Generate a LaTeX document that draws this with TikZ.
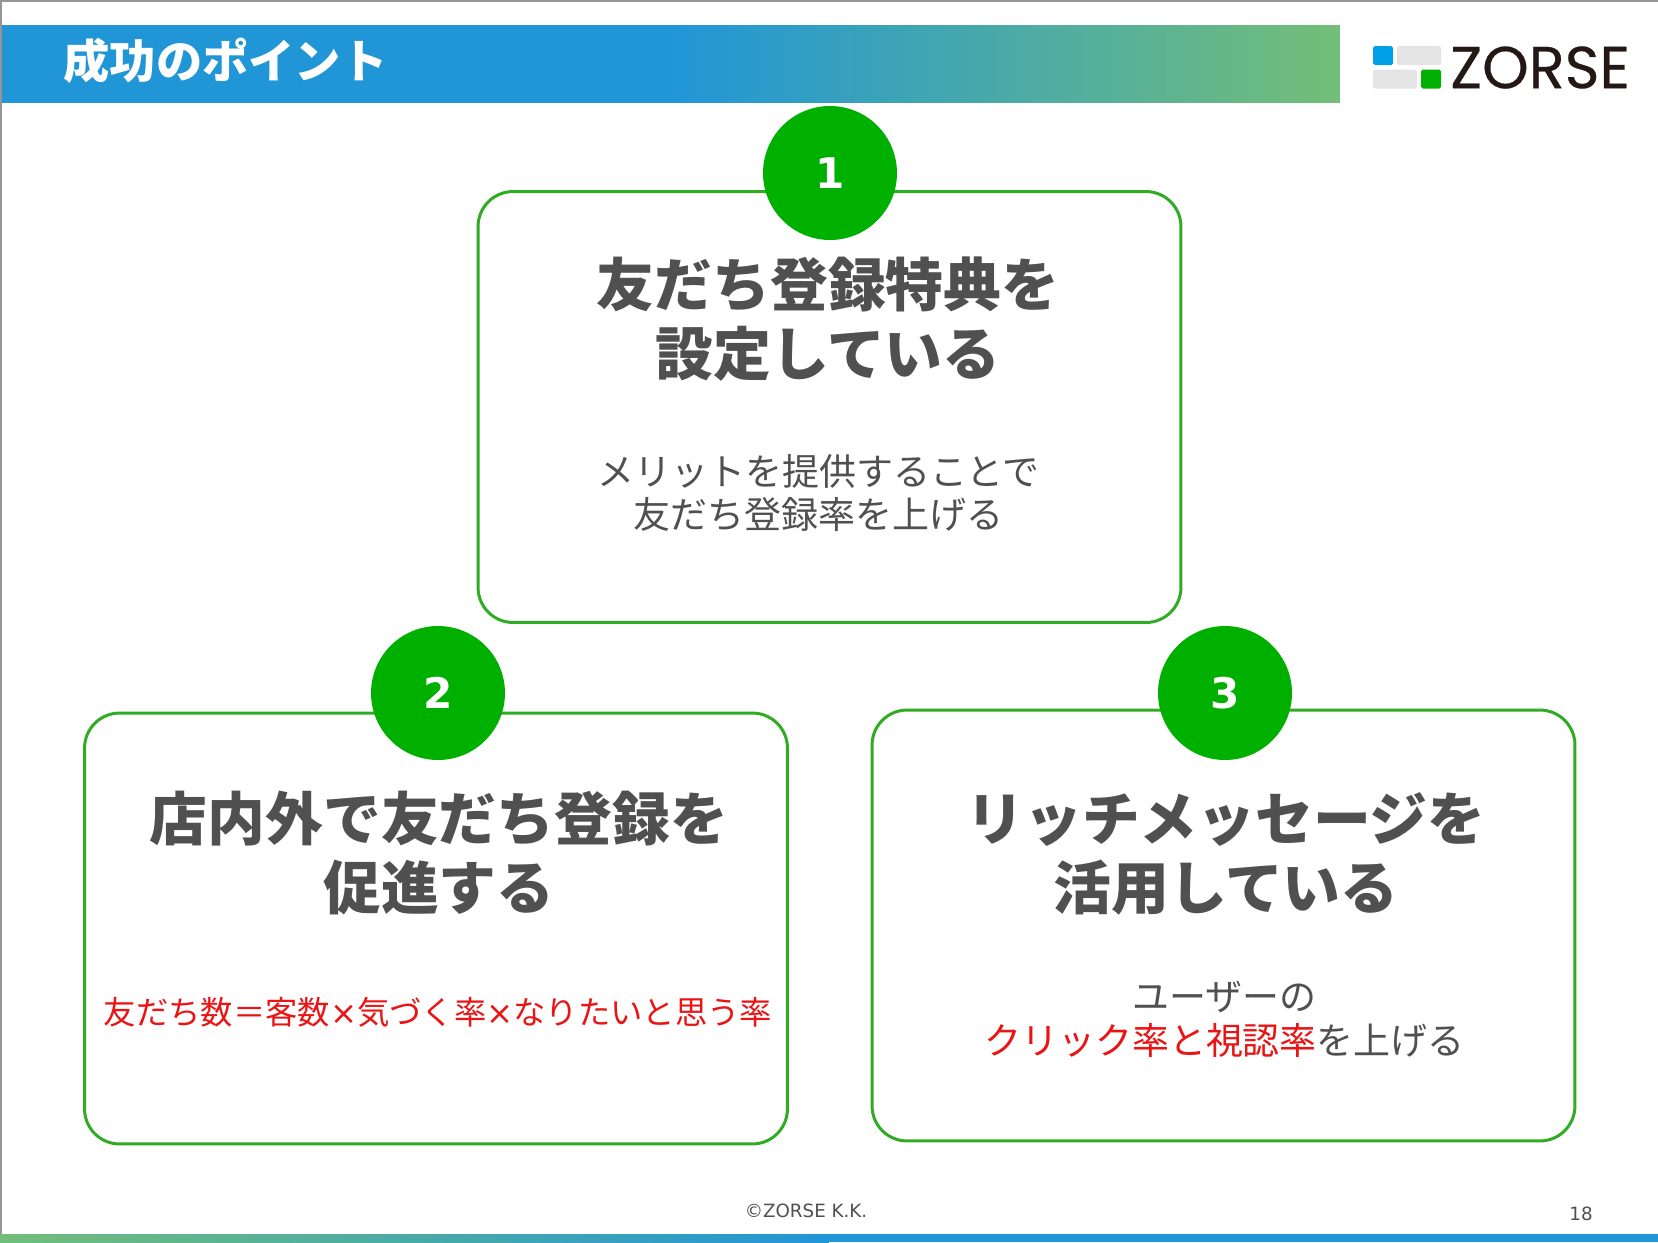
\documentclass[tikz,border=0pt]{standalone}
\usepackage{xcolor}
\usepackage{fontspec}
\usepackage{tikz}
\usetikzlibrary{positioning}
\setmainfont{Noto Sans CJK JP}
\newfontfamily\latinfont{DejaVu Sans}
\newfontfamily\logofont[FakeBold=0.4]{Poppins}
\definecolor{barblue}{RGB}{33,150,215}
\definecolor{bargreen}{RGB}{115,190,120}
\definecolor{cardgreen}{RGB}{48,172,36}
\definecolor{badgegreen}{RGB}{0,176,0}
\definecolor{textgray}{RGB}{80,80,80}
\definecolor{alertred}{RGB}{235,20,20}
\definecolor{logoblue}{RGB}{0,160,233}
\definecolor{logogray}{RGB}{228,228,228}
\definecolor{logoblack}{RGB}{35,24,21}
\definecolor{edgegray}{RGB}{150,150,150}

\begin{document}
\begin{tikzpicture}[
  x=0.02cm, y=-0.02cm,
  card/.style={rectangle, rounded corners=0.7cm, draw=cardgreen, line width=1.7pt, fill=white, minimum width=14.06cm, minimum height=8.62cm},
  badge/.style={circle, fill=badgegreen, minimum size=2.68cm, inner sep=0pt, text=white, font=\latinfont\fontsize{24}{28}\selectfont\bfseries},
  headline/.style={align=center, text=textgray, inner sep=0pt, font=\fontsize{32.9}{39.3}\selectfont\bfseries},
  bodytext/.style={align=center, text=textgray, inner sep=0pt, font=\fontsize{21.05}{25}\selectfont},
  alerttext/.style={bodytext, text=alertred, font=\fontsize{18.4}{25}\selectfont},
  logopart/.style={rectangle, rounded corners=1pt, inner sep=0pt, minimum height=0.38cm},
  footer/.style={text=textgray, inner sep=0pt, font=\latinfont\fontsize{10.4}{12}\selectfont}
]
\useasboundingbox (0,0) rectangle (1658,1242);
\fill[white] (0,0) rectangle (1658,1242);

% thin grey edge of the slide
\fill[edgegray] (0,0) rectangle (1658,2);
\fill[edgegray] (0,0) rectangle (2,1242);

% header bar + title
\node[rectangle, inner sep=0pt, minimum width=26.76cm, minimum height=1.54cm, left color=barblue, right color=bargreen, middle color=barblue] (bar) at (671,64) {};
\node[text=white, inner sep=0pt, font=\fontsize{26.35}{30}\selectfont\bfseries] (title) at (225.5,61) {成功のポイント};

% logo
\node[logopart, fill=logoblue, minimum width=0.4cm]  (logoa) at (1383,55.5) {};
\node[logopart, fill=logogray, minimum width=0.88cm] (logob) at (1419,55.5) {};
\node[logopart, fill=logogray, minimum width=0.88cm] (logoc) at (1395,79) {};
\node[logopart, fill=badgegreen, minimum width=0.4cm] (logod) at (1431,79) {};
\node[text=logoblack, inner sep=0pt, font=\logofont\fontsize{33.7}{36}\selectfont] (logotext) at (1540,67.5) {ZORSE};

% bottom bar
\node[rectangle, inner sep=0pt, minimum width=16.58cm, minimum height=0.16cm, left color=bargreen, right color=barblue] (bottombar) at (414.5,1238) {};
\node[rectangle, inner sep=0pt, minimum width=16.58cm, minimum height=0.16cm, fill=barblue] (bottomblue) at (1243.5,1238) {};

% Card 1 (top)
\node[card] (cardone) at (829.5,407) {};
\node[badge] (badgeone) at (830,173) {1};
\node[headline] (headone) at (828,319) {友だち登録特典を\\設定している};
\node[bodytext] (bodyone) at (818.5,493) {メリットを提供することで\\友だち登録率を上げる};

% Card 2 (left)
\node[card] (cardtwo) at (436,928.5) {};
\node[badge] (badgetwo) at (438,693) {2};
\node[headline] (headtwo) at (439,853) {店内外で友だち登録を\\促進する};
\node[alerttext] (bodytwo) at (438,1012) {友だち数＝客数{\latinfont ×}気づく率{\latinfont ×}なりたいと思う率};

% Card 3 (right)
\node[card] (cardthree) at (1223.5,925.5) {};
\node[badge] (badgethree) at (1225,693) {3};
\node[headline] (headthree) at (1226,854) {リッチメッセージを\\活用している};
\node[bodytext] (bodythree) at (1224.5,1019) {ユーザーの\\\textcolor{alertred}{クリック率と視認率}を上げる};

% footer
\node[footer] (copyright) at (806,1211) {©ZORSE K.K.};
\node[footer] (pagenum) at (1581,1214) {18};
\end{tikzpicture}
\end{document}
